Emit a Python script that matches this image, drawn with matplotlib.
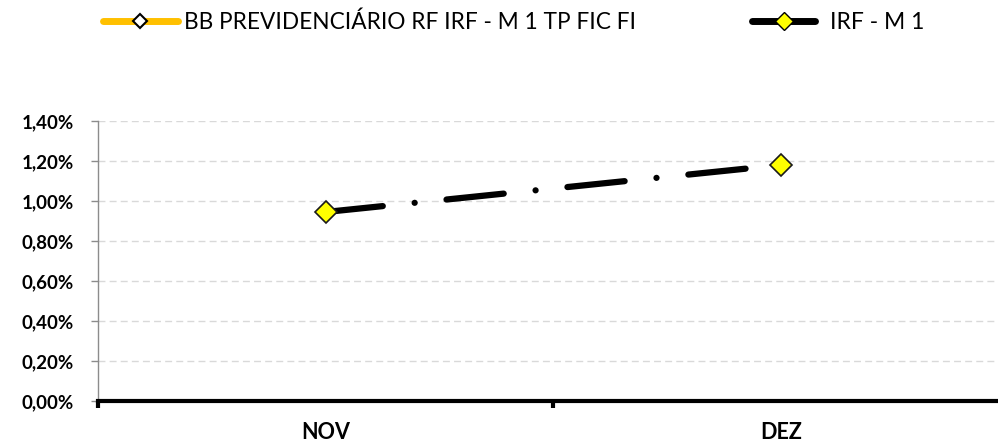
import numpy as np
import matplotlib.pyplot as plt
from matplotlib.lines import Line2D
from matplotlib.ticker import FuncFormatter

meses = ["NOV", "DEZ"]
bb_prev = [np.nan, np.nan]          # serie sem valores no grafico
irf_m1 = [0.945, 1.18]
yticks = [0.0, 0.2, 0.4, 0.6, 0.8, 1.0, 1.2, 1.4]
nomes = ["BB PREVIDENCIÁRIO RF IRF - M 1 TP FIC FI", "IRF - M 1"]

plt.rcParams['font.family'] = ['Lato', 'DejaVu Sans']

fig = plt.figure(figsize=(9.98, 4.46), dpi=100)
ax = fig.add_axes([0.098, 0.1009, 1.011 - 0.098, 0.7287 - 0.1009])

x = np.arange(len(meses))
ax.plot(x, bb_prev, color='#FFC000', lw=5, marker='D', ms=8,
        mfc='white', mec='black', mew=1.5, zorder=3)
linha, = ax.plot(x, irf_m1, color='black', lw=4.5, solid_capstyle='round',
                 dash_capstyle='round', marker='D', ms=11.5,
                 mfc='#FFFF00', mec='#1a1a1a', mew=1.2, zorder=4)
# traco-ponto, periodo ajustado para o ultimo ponto cair sob o marcador
linha.set_linestyle((0, (9.2, 5.12, 0.01, 5.12)))

ax.set_xlim(-0.5, 1.5)
ax.set_ylim(0, 1.4)
ax.set_yticks(yticks)
ax.yaxis.set_major_formatter(FuncFormatter(lambda v, p: f"{v:.2f}%".replace('.', ',')))
ax.grid(axis='y', color='#D9D9D9', ls=(0, (5, 3)), lw=1)
ax.set_axisbelow(True)

ax.set_xticks([-0.5, 0.5, 1.5])
ax.set_xticklabels([])
ax.set_xticks(x, minor=True)
ax.set_xticklabels(meses, minor=True)
ax.tick_params(axis='x', which='major', direction='out', length=5, width=3, color='black')
ax.tick_params(axis='x', which='minor', length=0, pad=15, labelsize=15.5)
ax.tick_params(axis='y', length=5, width=1, color='#8C8C8C', labelsize=13.5, pad=12)
for lab in ax.get_xticklabels(minor=True) + ax.get_yticklabels():
    lab.set_fontweight('bold')

for s in ['top', 'right']:
    ax.spines[s].set_visible(False)
ax.spines['left'].set_color('#8C8C8C')
ax.spines['left'].set_linewidth(1)
ax.spines['bottom'].set_color('black')
ax.spines['bottom'].set_linewidth(3)

h1 = Line2D([], [], color='#FFC000', lw=5, solid_capstyle='round', marker='D', ms=7,
            mfc='white', mec='black', mew=1.5)
h2 = Line2D([], [], color='black', lw=5, solid_capstyle='round', marker='D', ms=9,
            mfc='#FFFF00', mec='black', mew=1)
leg1 = fig.legend([h1], [nomes[0]], loc='center left', bbox_to_anchor=(0.1032, 0.9496),
                  frameon=False, fontsize=16.3, handlelength=3.3, handletextpad=0.3,
                  borderpad=0, borderaxespad=0)
leg2 = fig.legend([h2], [nomes[1]], loc='center left', bbox_to_anchor=(0.7535, 0.9496),
                  frameon=False, fontsize=16.5, handlelength=2.75, handletextpad=0.65,
                  borderpad=0, borderaxespad=0)

fig.savefig('out.png', dpi=100)
